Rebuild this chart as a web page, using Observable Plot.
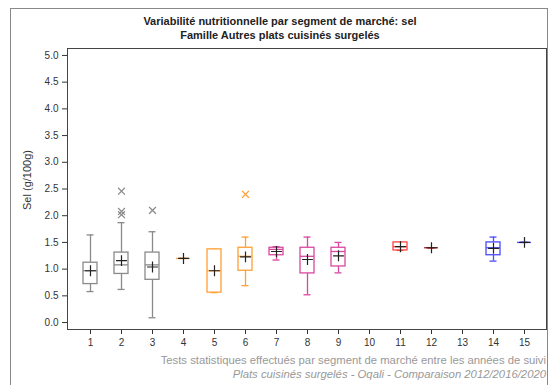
<!DOCTYPE html>
<html><head><meta charset="utf-8">
<script src="https://cdn.jsdelivr.net/npm/d3@7"></script>
<script src="https://cdn.jsdelivr.net/npm/@observablehq/plot@0.6"></script>
<style>
body{margin:0;background:#fff;font-family:Arial,"Liberation Sans",sans-serif;}
#wrap{position:relative;width:553px;height:385px;overflow:hidden;}
#border{position:absolute;left:10px;top:8px;width:538px;height:400px;border:1px solid #888;box-sizing:border-box;}
.t{position:absolute;left:10px;width:540px;text-align:center;font-weight:bold;font-size:11px;color:#222;}
.f{position:absolute;right:7px;font-size:11.3px;color:#999;white-space:nowrap;}
svg{position:absolute;left:0;top:0;}
</style></head>
<body><div id="wrap"><div id="border"></div>
<div class="t" style="top:15px">Variabilité nutritionnelle par segment de marché: sel</div>
<div class="t" style="top:29px">Famille Autres plats cuisinés surgelés</div>
<div class="f" style="top:354px">Tests statistiques effectués par segment de marché entre les années de suivi</div>
<div class="f" style="top:368px;font-style:italic">Plats cuisinés surgelés - Oqali - Comparaison 2012/2016/2020</div>
</div>
<script>
const segments = [1,2,3,4,5,6,7,8,9,10,11,12,13,14,15];
const boxSegments = [1,2,3,4,5,6,7,8,9,11,12,14,15];
const whiskerLow  = [0.58,0.62,0.09,1.20,0.56,0.69,1.17,0.52,0.93,1.35,1.40,1.15,1.50];
const q1          = [0.72,0.91,0.80,1.20,0.56,0.97,1.26,0.92,1.05,1.35,1.40,1.26,1.50];
const medians     = [0.97,1.08,1.08,1.20,0.97,1.24,1.37,1.24,1.33,1.42,1.40,1.40,1.50];
const q3          = [1.12,1.31,1.31,1.20,1.37,1.40,1.40,1.40,1.40,1.50,1.40,1.50,1.50];
const whiskerHigh = [1.64,1.87,1.70,1.20,1.37,1.60,1.42,1.60,1.50,1.50,1.40,1.60,1.50];
const means       = [0.97,1.16,1.04,1.20,0.97,1.23,1.33,1.18,1.25,1.42,1.40,1.39,1.50];
const colors      = ["#8a8a8a","#8a8a8a","#8a8a8a","#ffa033","#ffa033","#ffa033","#d9489f","#d9489f","#d9489f","#ff4444","#c02020","#4a4aff","#4a4aff"];
const outlierSegments = [2,2,2,3,6];
const outlierValues   = [2.46,2.08,2.02,2.10,2.40];
const outlierColors   = ["#8a8a8a","#8a8a8a","#8a8a8a","#8a8a8a","#ffa033"];
const yTicks = [0,0.5,1,1.5,2,2.5,3,3.5,4,4.5,5];
const yLabel = "Sel (g/100g)";

const boxes = boxSegments.map((s,i)=>({seg:s, lo:whiskerLow[i], q1:q1[i], med:medians[i], q3:q3[i], hi:whiskerHigh[i], mean:means[i], color:colors[i]}));
const outliers = outlierSegments.map((s,i)=>({seg:s, v:outlierValues[i], color:outlierColors[i]}));

const chart = Plot.plot({
  width:553, height:385,
  marginLeft:67, marginRight:7, marginTop:48, marginBottom:56,
  style:{fontFamily:"Arial, 'Liberation Sans', sans-serif", fontSize:"10px", color:"#333", background:"transparent"},
  x:{type:"band", domain:segments, paddingInner:0.553, paddingOuter:0.43, label:null, tickSize:5},
  y:{domain:[-0.13,5.13], ticks:yTicks, tickFormat:d3.format(".1f"), label:null, tickSize:5},
  marks:[
    Plot.frame({stroke:"#444"}),
    Plot.ruleX(boxes,{x:"seg", y1:"lo", y2:"q1", stroke:"color", strokeWidth:1.3}),
    Plot.ruleX(boxes,{x:"seg", y1:"q3", y2:"hi", stroke:"color", strokeWidth:1.3}),
    Plot.tickY(boxes,{x:"seg", y:"lo", stroke:"color", strokeWidth:1.3, insetLeft:3.5, insetRight:3.5}),
    Plot.tickY(boxes,{x:"seg", y:"hi", stroke:"color", strokeWidth:1.3, insetLeft:3.5, insetRight:3.5}),
    Plot.barY(boxes,{x:"seg", y1:"q1", y2:"q3", fill:"white", stroke:"color", strokeWidth:1.3}),
    Plot.tickY(boxes,{x:"seg", y:"med", stroke:"color", strokeWidth:1.3}),
    Plot.dot(boxes,{x:"seg", y:"mean", symbol:"plus", r:3.6, stroke:"#222", strokeWidth:1.2}),
    Plot.dot(outliers,{x:"seg", y:"v", symbol:"times", r:3.2, stroke:"color", strokeWidth:1.2}),
    Plot.text([yLabel],{frameAnchor:"left", textAnchor:"middle", dx:-40, dy:-9, rotate:-90, text:d=>d, fontSize:11, fill:"#333"})
  ]
});
document.getElementById("wrap").appendChild(chart);
</script></body></html>
